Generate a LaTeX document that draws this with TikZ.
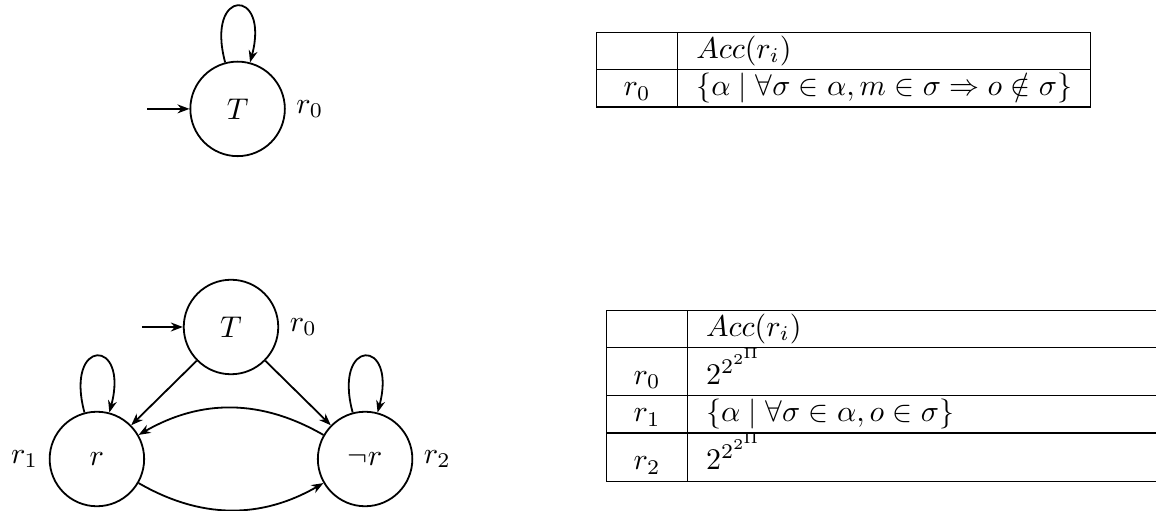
\documentclass[tikz,border=0pt]{standalone}
\usepackage{amsmath,amssymb}
\usepackage{array}
\usepackage{tikz}
\usetikzlibrary{arrows.meta,positioning,calc}
\tikzset{
  state/.style={circle, draw=black, semithick, minimum size=31.5pt, inner sep=0pt},
  tr/.style={-{Stealth[length=4pt]}, draw=black, semithick},
  acctab/.style={inner sep=0pt, outer sep=0pt, anchor=north west},
}
\newcolumntype{C}{>{\centering\arraybackslash}p{14.6pt}}

\begin{document}
\begin{tikzpicture}[x=1pt, y=1pt, node distance=57.3pt]
  \useasboundingbox (0,0) rectangle (385.33,-170.33);
  % one state
  \node[state, label=right:$r_0$] (t0) at (79.2,-36.3) {$T$};
  \coordinate[left=14pt of t0] (init0);
  \draw[tr] (init0) -- (t0);
  \draw[tr] (t0) to[loop above] (t0);
  \node[acctab] (tab0) at (198.7,-10.7) {%
    \begin{tabular}{|C|l|}
      \hline
            & $Acc(r_i)$ \\ \hline
      $r_0$ & $\{\alpha \mid \forall\sigma\in\alpha, m\in\sigma \Rightarrow o\notin\sigma\}$ \\ \hline
    \end{tabular}};
  % three states
  \node[state, label=left:$r_1$] (r) at (32.3,-153) {$r$};
  \node[state, label=right:$r_2$, right=of r] (nr) {$\neg r$};
  \node[state, label=right:$r_0$] (t1) at ($(r)!0.5!(nr)+(0,44)$) {$T$};
  \coordinate[left=13.7pt of t1] (init1);
  \draw[tr] (init1) -- (t1);
  \draw[tr] (t1) -- (r);
  \draw[tr] (t1) -- (nr);
  \draw[tr] (nr) to[bend right=30] (r);
  \draw[tr] (r) to[bend right=30] (nr);
  \draw[tr] (r) to[loop above] (r);
  \draw[tr] (nr) to[loop above] (nr);
  \node[acctab] (tab1) at (202,-103.3) {%
    \begin{tabular}{|C|p{153pt}|}
      \hline
            & $Acc(r_i)$ \\ \hline
      $r_0$ & $2^{2^{2^{\Pi}}}$ \\ \hline
      $r_1$ & $\{\alpha \mid \forall\sigma\in\alpha, o\in\sigma\}$ \\ \hline
      $r_2$ & $2^{2^{2^{\Pi}}}$ \\ \hline
    \end{tabular}};
\end{tikzpicture}
\end{document}
